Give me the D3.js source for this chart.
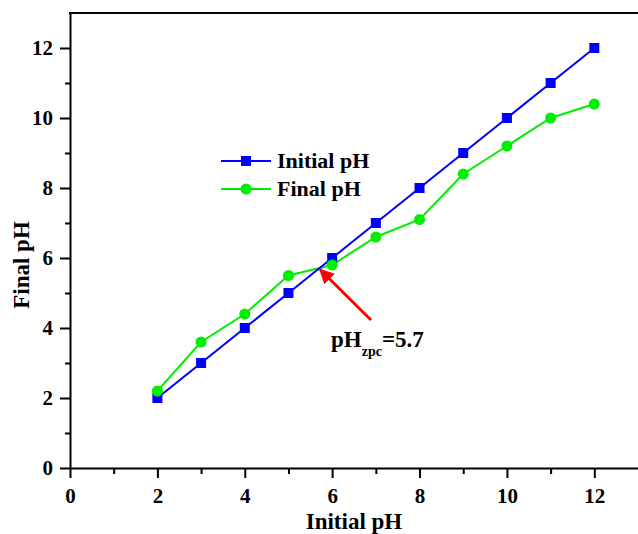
<!DOCTYPE html>
<html>
<head>
<meta charset="utf-8">
<script src="https://cdn.jsdelivr.net/npm/d3@7"></script>
<style>
  body { margin: 0; background: #fff; }
  text { font-family: "Liberation Serif", "Times New Roman", serif; font-weight: bold; }
</style>
</head>
<body>
<script>
var width = 638;
var height = 534;

// data
var initialPH = [2, 3, 4, 5, 6, 7, 8, 9, 10, 11, 12];
var initialSeries = [2, 3, 4, 5, 6, 7, 8, 9, 10, 11, 12];
var finalSeries = [2.2, 3.6, 4.4, 5.5, 5.8, 6.6, 7.1, 8.4, 9.2, 10.0, 10.4];
var majorTicks = [0, 2, 4, 6, 8, 10, 12];
var minorTicks = [1, 3, 5, 7, 9, 11];
var pzc = 5.7;

var margin = {left: 70, top: 13, right: 0, bottom: 66};

var x = d3.scaleLinear().domain([0, 13]).range([margin.left, width - margin.right]);
var y = d3.scaleLinear().domain([0, 13]).range([height - margin.bottom, margin.top]);

var svg = d3.select("body").append("svg")
  .attr("width", width)
  .attr("height", height);

// axes
var xAxis = svg.append("g")
  .attr("transform", "translate(0," + y(0) + ")")
  .call(d3.axisBottom(x).tickValues(majorTicks).tickSize(10).tickSizeOuter(0).tickPadding(10));
var xMinor = svg.append("g")
  .attr("transform", "translate(0," + y(0) + ")")
  .call(d3.axisBottom(x).tickValues(minorTicks).tickSize(6).tickSizeOuter(0).tickFormat(""));

var yAxis = svg.append("g")
  .attr("transform", "translate(" + x(0) + ",0)")
  .call(d3.axisLeft(y).tickValues(majorTicks).tickSize(10).tickSizeOuter(0).tickPadding(7));
var yMinor = svg.append("g")
  .attr("transform", "translate(" + x(0) + ",0)")
  .call(d3.axisLeft(y).tickValues(minorTicks).tickSize(5).tickSizeOuter(0).tickFormat(""));

[xAxis, xMinor, yAxis, yMinor].forEach(function(g) {
  g.selectAll("path, line").attr("stroke", "#000").attr("stroke-width", 2);
  g.selectAll("text").attr("fill", "#000").style("font-size", "21px")
    .style("font-family", "'Liberation Serif', serif").style("font-weight", "bold");
});
xMinor.select("path").remove();
yMinor.select("path").remove();

// top border
svg.append("line")
  .attr("x1", x(0) - 1).attr("x2", width)
  .attr("y1", y(13)).attr("y2", y(13))
  .attr("stroke", "#000").attr("stroke-width", 2);

// axis titles
svg.append("text")
  .attr("x", (x(0) + width) / 2)
  .attr("y", 529)
  .attr("text-anchor", "middle")
  .style("font-size", "23px")
  .text("Initial pH");

svg.append("text")
  .attr("transform", "translate(29," + y(5.8) + ") rotate(-90)")
  .attr("text-anchor", "middle")
  .style("font-size", "23px")
  .text("Final pH");

var line = d3.line()
  .x(function(d) { return x(d[0]); })
  .y(function(d) { return y(d[1]); });

var initPts = initialPH.map(function(v, i) { return [v, initialSeries[i]]; });
var finalPts = initialPH.map(function(v, i) { return [v, finalSeries[i]]; });

svg.append("path").datum(finalPts)
  .attr("d", line).attr("fill", "none")
  .attr("stroke", "#00ee00").attr("stroke-width", 2);

svg.append("path").datum(initPts)
  .attr("d", line).attr("fill", "none")
  .attr("stroke", "#0000ff").attr("stroke-width", 2);

svg.selectAll("rect.init").data(initPts).enter().append("rect")
  .attr("class", "init")
  .attr("x", function(d) { return x(d[0]) - 5; })
  .attr("y", function(d) { return y(d[1]) - 5; })
  .attr("width", 10).attr("height", 10)
  .attr("fill", "#0000ff");

svg.selectAll("circle.fin").data(finalPts).enter().append("circle")
  .attr("class", "fin")
  .attr("cx", function(d) { return x(d[0]); })
  .attr("cy", function(d) { return y(d[1]); })
  .attr("r", 5.5)
  .attr("fill", "#00ee00");

// legend
var legend = svg.append("g");
legend.append("line").attr("x1", 221).attr("x2", 271).attr("y1", 161).attr("y2", 161)
  .attr("stroke", "#0000ff").attr("stroke-width", 2);
legend.append("rect").attr("x", 241).attr("y", 156).attr("width", 10).attr("height", 10)
  .attr("fill", "#0000ff");
legend.append("text").attr("x", 277).attr("y", 168).style("font-size", "22px").text("Initial pH");

legend.append("line").attr("x1", 221).attr("x2", 271).attr("y1", 189).attr("y2", 189)
  .attr("stroke", "#00ee00").attr("stroke-width", 2);
legend.append("circle").attr("cx", 246).attr("cy", 189).attr("r", 5.5)
  .attr("fill", "#00ee00");
legend.append("text").attr("x", 277).attr("y", 196).style("font-size", "22px").text("Final pH");

// pHzpc arrow
svg.append("defs").append("marker")
  .attr("id", "head")
  .attr("viewBox", "0 0 10 10")
  .attr("refX", 9).attr("refY", 5)
  .attr("markerWidth", 5).attr("markerHeight", 5)
  .attr("orient", "auto")
  .append("path").attr("d", "M0,0 L10,5 L0,10 Z").attr("fill", "#ff0000");

var tipX = x(pzc), tipY = y(pzc);
svg.append("line")
  .attr("x1", 371).attr("y1", 320)
  .attr("x2", tipX + 1).attr("y2", tipY + 1)
  .attr("stroke", "#ff0000").attr("stroke-width", 3)
  .attr("marker-end", "url(#head)");

var note = svg.append("text").attr("x", 331).attr("y", 347).style("font-size", "23px");
note.append("tspan").text("pH");
note.append("tspan").attr("dy", 9).style("font-size", "14px").text("zpc");
note.append("tspan").attr("dy", -9).text("=5.7");
</script>
</body>
</html>
